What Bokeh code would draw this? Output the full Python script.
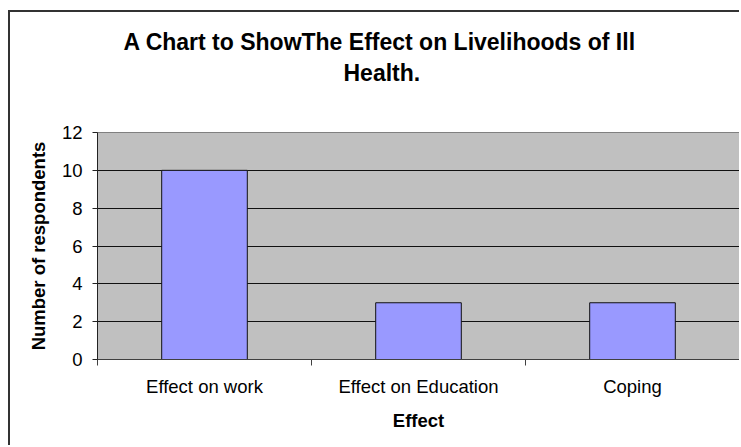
from bokeh.plotting import figure
from bokeh.models import Range1d, FixedTicker, Title
from bokeh.embed import file_html
from bokeh.resources import INLINE

# ---- data ----
title_lines = ["A Chart to ShowThe Effect on Livelihoods of Ill", "Health."]
categories = ["Effect on work", "Effect on Education", "Coping"]
respondents = [10, 3, 3]
y_ticks = [0, 2, 4, 6, 8, 10, 12]
x_title = "Effect"
y_title = "Number of respondents"

n = len(categories)
centers = [i + 0.5 for i in range(n)]
boundaries = list(range(n + 1))

FONT = "Liberation Sans"
W, H = 731, 435

p = figure(width=W, height=H, x_range=Range1d(0, n), y_range=Range1d(y_ticks[0], y_ticks[-1]),
           output_backend="svg", toolbar_location=None, tools="", title=None,
           min_border_left=87, min_border_right=2, min_border_top=120, min_border_bottom=88)
p.styles = {"border-left": "2px solid #333333", "border-top": "2px solid #333333",
            "margin-left": "8px", "margin-top": "10px"}

p.background_fill_color = "#C0C0C0"
p.border_fill_color = "white"
p.outline_line_color = "#808080"
p.outline_line_width = 1

p.vbar(x=centers, top=respondents, bottom=0, width=0.4,
       fill_color="#9999FF", line_color="#111111", line_width=1)

# grid
p.xgrid.grid_line_color = None
p.ygrid.ticker = FixedTicker(ticks=y_ticks[1:-1])
p.ygrid.grid_line_color = "#111111"
p.ygrid.grid_line_width = 1

# y axis
ya = p.yaxis[0]
ya.ticker = FixedTicker(ticks=y_ticks)
ya.axis_label = y_title
ya.axis_label_text_font = FONT
ya.axis_label_text_font_size = "18.5px"
ya.axis_label_text_font_style = "bold"
ya.axis_label_text_color = "black"
ya.axis_label_standoff = 10
ya.major_label_text_font = FONT
ya.major_label_text_font_size = "18.5px"
ya.major_label_text_color = "black"
ya.major_label_standoff = 10
ya.major_tick_out = 5
ya.major_tick_in = 0
ya.major_tick_line_color = "#222222"
ya.minor_tick_line_color = None
ya.axis_line_color = "#222222"

# x axis
xa = p.xaxis[0]
xa.ticker = FixedTicker(ticks=centers, minor_ticks=boundaries)
xa.major_label_overrides = {c: cat for c, cat in zip(centers, categories)}
xa.axis_label = x_title
xa.axis_label_text_font = FONT
xa.axis_label_text_font_size = "18.5px"
xa.axis_label_text_font_style = "bold"
xa.axis_label_text_color = "black"
xa.axis_label_standoff = 10
xa.major_label_text_font = FONT
xa.major_label_text_font_size = "18.5px"
xa.major_label_text_color = "black"
xa.major_label_standoff = 10
xa.major_tick_line_color = None
xa.major_tick_out = 0
xa.major_tick_in = 0
xa.minor_tick_line_color = "#404040"
xa.minor_tick_out = 6
xa.minor_tick_in = 0
xa.axis_line_color = "#404040"

# title: spacer (nearest frame), then line 2, then line 1
p.add_layout(Title(text=" ", text_font_size="1px", standoff=40), "above")
title_offsets = [26, 246]
title_standoffs = [0, 7]
for line, off, so in reversed(list(zip(title_lines, title_offsets, title_standoffs))):
    p.add_layout(Title(text=line, align="left", offset=off, standoff=so,
                       vertical_align="bottom",
                       text_font=FONT, text_font_size="23px", text_font_style="bold",
                       text_color="black"), "above")

open("out.html", "w").write(file_html(p, INLINE))
